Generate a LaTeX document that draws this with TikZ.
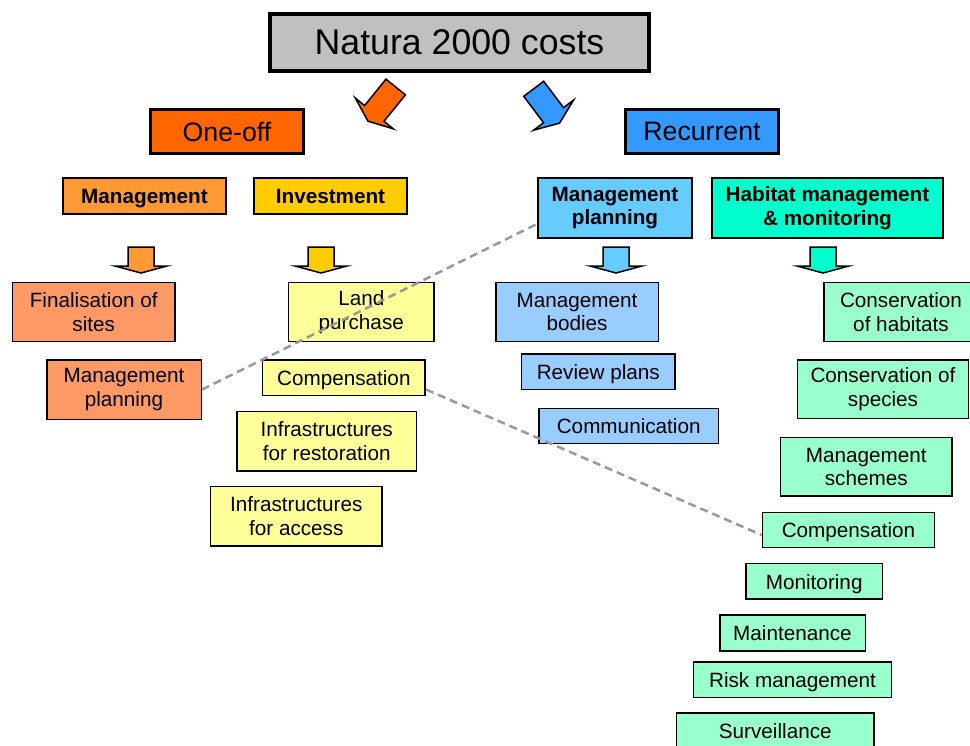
\documentclass[tikz,border=0pt]{standalone}
\usepackage{fontspec}
\setmainfont{Liberation Sans}
\definecolor{titleC}{HTML}{C0C0C0}
\definecolor{oneoffC}{HTML}{FF6600}
\definecolor{recurC}{HTML}{3399FF}
\definecolor{mgmtC}{HTML}{FF9933}
\definecolor{investC}{HTML}{FFCC00}
\definecolor{mplanC}{HTML}{66CCFF}
\definecolor{habitC}{HTML}{00FFCC}
\definecolor{orangeC}{HTML}{FF9966}
\definecolor{yellowC}{HTML}{FFFF99}
\definecolor{blueC}{HTML}{99CCFF}
\definecolor{greenC}{HTML}{99FFCC}
\definecolor{linkC}{HTML}{999999}
\tikzstyle{leaf}=[draw, line width=1.5pt, align=center, inner sep=0pt, font=\fontsize{20.7}{23.4}\selectfont]
\tikzstyle{oneline}=[text height=19.5pt, text depth=4pt]
\tikzstyle{head}=[leaf, line width=2.2pt, font=\bfseries\fontsize{20.7}{23.4}\selectfont]
\tikzstyle{branch}=[leaf, line width=3pt, font=\fontsize{26.7}{30}\selectfont]
\tikzstyle{link}=[draw=linkC, line width=2.5pt, dash pattern=on 8pt off 5pt]

\begin{document}
\begin{tikzpicture}[x=1pt, y=-1pt]
\useasboundingbox (0,0) rectangle (970,745);
% Top
    \node[leaf, line width=4pt, fill=titleC, minimum width=379pt, minimum height=57pt, font=\fontsize{35.7}{40}\selectfont] (costs) at (459.5,42.5) {Natura 2000 costs};
% Big arrows
    \draw[fill=oneoffC, line width=1.5pt, shift={(395.7,87)}, rotate=-39] (-12.5,0) -- (12.5,0) -- (12.5,34) -- (24.5,34) -- (0,44) -- (-24.5,34) -- (-12.5,34) -- cycle;
    \draw[fill=recurC, line width=1.5pt, shift={(533.7,88.8)}, rotate=37] (-12.5,0) -- (12.5,0) -- (12.5,33) -- (25,33) -- (0,43) -- (-25,33) -- (-12.5,33) -- cycle;
% Branches
    \node[branch, fill=oneoffC, minimum width=153pt, minimum height=44pt] (oneoff) at (227,131.5) {One-off};
    \node[branch, fill=recurC, minimum width=153pt, minimum height=44pt] (recur) at (702,131.5) {Recurrent};
% Headings
    \node[head, oneline, fill=mgmtC, minimum width=163pt, minimum height=36pt] (mgmt) at (144.5,196) {Management};
    \node[head, oneline, fill=investC, minimum width=153pt, minimum height=36pt] (invest) at (330.5,196) {Investment};
    \node[head, fill=mplanC, minimum width=154pt, minimum height=60pt] (mplan) at (615,208) {Management\\planning};
    \node[head, fill=habitC, minimum width=231pt, minimum height=60pt] (habit) at (827.5,208) {Habitat management\\\& monitoring};
% Small arrows
    \draw[fill=mgmtC, line width=1.5pt, shift={(141,0)}] (-13,247) -- (13,247) -- (13,266) -- (26,266) -- (0,273) -- (-26,266) -- (-13,266) -- cycle;
    \draw[fill=investC, line width=1.5pt, shift={(321,0)}] (-13,247) -- (13,247) -- (13,266) -- (26,266) -- (0,273) -- (-26,266) -- (-13,266) -- cycle;
    \draw[fill=mplanC, line width=1.5pt, shift={(616,0)}] (-13,247) -- (13,247) -- (13,266) -- (26,266) -- (0,273) -- (-26,266) -- (-13,266) -- cycle;
    \draw[fill=habitC, line width=1.5pt, shift={(823,0)}] (-13,247) -- (13,247) -- (13,266) -- (26,266) -- (0,273) -- (-26,266) -- (-13,266) -- cycle;
% One-off items
    \node[leaf, fill=orangeC, minimum width=162.5pt, minimum height=59pt] (fin) at (93.7,312) {Finalisation of\\sites};
    \node[leaf, fill=orangeC, minimum width=154.5pt, minimum height=59.5pt] (mplanO) at (124,389.5) {Management\\planning};
    \node[leaf, fill=yellowC, minimum width=145.8pt, minimum height=59pt] (land) at (361.3,312) {Land\\purchase};
    \node[leaf, oneline, fill=yellowC, minimum width=162.8pt, minimum height=35.5pt] (compY) at (343.8,377.5) {Compensation};
    \node[leaf, fill=yellowC, minimum width=179.8pt, minimum height=59.5pt] (infraR) at (326.7,441.2) {Infrastructures\\for restoration};
    \node[leaf, fill=yellowC, minimum width=171.2pt, minimum height=59.5pt] (infraA) at (296.3,516.2) {Infrastructures\\for access};
% Recurrent items
    \node[leaf, fill=blueC, minimum width=162.5pt, minimum height=59pt] (bodies) at (577,312) {Management\\bodies};
    \node[leaf, oneline, fill=blueC, minimum width=153.8pt, minimum height=35.2pt] (review) at (598.3,371.7) {Review plans};
    \node[leaf, oneline, fill=blueC, minimum width=179.8pt, minimum height=35.2pt] (comm) at (628.7,426) {Communication};
    \node[leaf, fill=greenC, minimum width=154.5pt, minimum height=59pt] (consH) at (901,312) {Conservation\\of habitats};
    \node[leaf, fill=greenC, minimum width=171pt, minimum height=58.5pt] (consS) at (883,389.3) {Conservation of\\species};
    \node[leaf, fill=greenC, minimum width=171.2pt, minimum height=58.8pt] (schemes) at (866.3,466.8) {Management\\schemes};
    \node[leaf, oneline, fill=greenC, minimum width=172pt, minimum height=35pt] (compG) at (848.5,530) {Compensation};
    \node[leaf, oneline, fill=greenC, minimum width=136.8pt, minimum height=35.8pt] (monit) at (814.2,581.3) {Monitoring};
    \node[leaf, oneline, fill=greenC, minimum width=145.5pt, minimum height=35.8pt] (maint) at (792.5,633) {Maintenance};
    \node[leaf, oneline, fill=greenC, minimum width=198pt, minimum height=35.8pt] (risk) at (792.5,679.7) {Risk management};
    \node[leaf, oneline, fill=greenC, minimum width=197.8pt, minimum height=35.2pt] (surv) at (775.3,730.7) {Surveillance};
% Shared items
    \draw[link] (mplanO.east) -- ([yshift=-16pt]mplan.west);
    \draw[link] ([yshift=-12pt]compY.east) -- ([yshift=-5pt]compG.west);
\end{tikzpicture}
\end{document}
